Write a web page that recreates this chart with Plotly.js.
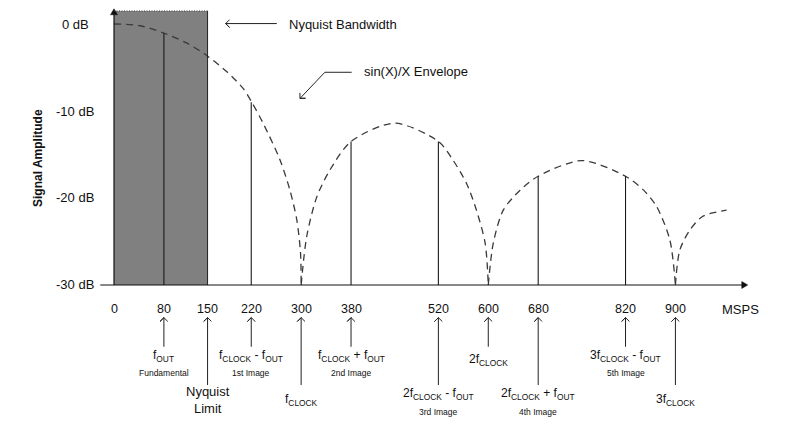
<!DOCTYPE html>
<html><head><meta charset="utf-8">
<script src="https://cdn.plot.ly/plotly-3.0.1.min.js"></script>
<style>html,body{margin:0;padding:0;background:#fff}#chart{width:791px;height:426px}</style>
</head><body><div id="chart"></div>
<script>
// ---------- data ----------
const xTickVals = [0, 80, 150, 220, 300, 380, 520, 600, 680, 820, 900];
const xUnit = 'MSPS';
const yTickVals = [0, -10, -20, -30];
const yTickText = ['0 dB', '-10 dB', '-20 dB', '-30 dB'];
const yTitle = 'Signal Amplitude';

const nyquistF = 150;        // Nyquist limit (MSPS)
const nyquistTopDb = 1.5;    // top of shaded band

// spectral lines (fOUT and images)
const toneF  = [80, 220, 380, 520, 680, 820];
const toneDb = [-1.05, -9.0, -13.5, -13.5, -17.5, -17.5];

// sin(x)/x envelope, read lobe by lobe
const lobe1F  = [0, 42, 80, 117, 150, 181, 207, 221, 239, 266, 282, 293, 299, 300];
const lobe1Db = [0, -0.2, -1.05, -2.2, -3.7, -5.5, -7.4, -9.0, -11.4, -15.6, -19.1, -22.5, -26.3, -30];
const lobe2F  = [300, 309, 325, 346, 380, 450, 520, 543, 565, 581, 595, 600];
const lobe2Db = [-30, -24.4, -19.9, -16.8, -13.5, -11.4, -13.5, -15.6, -18.3, -21.4, -25.2, -30];
const lobe3F  = [600, 608, 624, 651, 680, 750, 820, 849, 870, 891, 900];
const lobe3Db = [-30, -25.2, -21.4, -19.1, -17.5, -15.7, -17.5, -19.1, -21.0, -24.8, -30];
const lobe4F  = [900, 907, 923, 944, 982];
const lobe4Db = [-30, -26.0, -23.7, -22.1, -21.4];

// frequency markers below the axis
const markerF = [80, 150, 220, 300, 380, 520, 600, 680, 820, 900];
const markerLabel = [
  'f<sub>OUT</sub>',
  'Nyquist<br>Limit',
  'f<sub>CLOCK</sub> - f<sub>OUT</sub>',
  'f<sub>CLOCK</sub>',
  'f<sub>CLOCK</sub> + f<sub>OUT</sub>',
  '2f<sub>CLOCK</sub> - f<sub>OUT</sub>',
  '2f<sub>CLOCK</sub>',
  '2f<sub>CLOCK</sub> + f<sub>OUT</sub>',
  '3f<sub>CLOCK</sub> - f<sub>OUT</sub>',
  '3f<sub>CLOCK</sub>'
];
const markerNote = ['Fundamental', '', '1st Image', '', '2nd Image', '3rd Image', '', '4th Image', '5th Image', ''];

const bandwidthLabel = 'Nyquist Bandwidth';
const envelopeLabel = 'sin(X)/X Envelope';

// ---------- chart ----------
const FONT = 'Arial, "Liberation Sans", Helvetica, sans-serif';
const INK = '#111';
const floorDb = Math.min(...yTickVals);

// plot geometry: pixels per unit on each axis (plot area = whole figure)
const W = 791, H = 426;
const xRange = [-182.75, 1085.28];
const yRange = [-46.21, 2.759];
const PXX = W / (xRange[1] - xRange[0]);
const PXY = H / (yRange[1] - yRange[0]);

const envStyle = {color: '#3a3a3a', width: 1.3, dash: '7px,5px', shape: 'spline', smoothing: 0.8};
const lobes = [[lobe1F, lobe1Db], [lobe2F, lobe2Db], [lobe3F, lobe3Db], [lobe4F, lobe4Db]];
const traces = lobes.map(([f, d]) => ({
  x: f, y: d, type: 'scatter', mode: 'lines', line: envStyle, hoverinfo: 'skip'
}));

const tx = [], ty = [];
toneF.forEach((f, i) => { tx.push(f, f, null); ty.push(floorDb, toneDb[i], null); });
traces.push({x: tx, y: ty, type: 'scatter', mode: 'lines', line: {color: '#1a1a1a', width: 1.1}, hoverinfo: 'skip'});

// ---- pointer arrows (shaft + open chevron head), built in data units ----
const arX = [], arY = [];
function pointer(pts, arm) {
  pts.forEach(p => { arX.push(p[0]); arY.push(p[1]); });
  arX.push(null); arY.push(null);
  const tip = pts[pts.length - 1], prev = pts[pts.length - 2];
  let dx = (tip[0] - prev[0]) * PXX, dy = -(tip[1] - prev[1]) * PXY;
  const len = Math.hypot(dx, dy); dx /= len; dy /= len;
  const L = arm || 5.5, c = Math.SQRT1_2;
  [[1, -1], [1, 1]].forEach(([a, s]) => {
    // rotate reversed direction by +/-45 deg
    const rx = -dx * c - s * (-dy) * c;
    const ry = -dy * c + s * (-dx) * c;
    arX.push(tip[0] + rx * L / PXX); arY.push(tip[1] - ry * L / PXY);
    arX.push(tip[0]); arY.push(tip[1]);
  });
  arX.push(null); arY.push(null);
}

const tipDb = -33.75;
markerF.forEach((f, i) => {
  const tail = (i % 2 === 1) ? -41.5 : -37.1;
  pointer([[f, tail], [f, tipDb]]);
});
pointer([[261, 0.05], [179, 0.05]]);
pointer([[381, -5.55], [338, -5.55], [298.2, -8.55]]);
traces.push({x: arX, y: arY, type: 'scatter', mode: 'lines', line: {color: '#222', width: 1}, hoverinfo: 'skip'});

// ---- axis arrow heads (filled triangles) ----
const yTip = nyquistTopDb + 0.25, xTip = 1016;
const hl = 6, hw = 3.5;
traces.push({
  x: [0 - hw / PXX, 0 + hw / PXX, 0, 0 - hw / PXX],
  y: [yTip - hl / PXY, yTip - hl / PXY, yTip, yTip - hl / PXY],
  type: 'scatter', mode: 'lines', fill: 'toself', fillcolor: '#111', line: {color: '#111', width: 0.5}, hoverinfo: 'skip'
});
traces.push({
  x: [xTip - hl / PXX, xTip - hl / PXX, xTip, xTip - hl / PXX],
  y: [floorDb - hw / PXY, floorDb + hw / PXY, floorDb, floorDb - hw / PXY],
  type: 'scatter', mode: 'lines', fill: 'toself', fillcolor: '#111', line: {color: '#111', width: 0.5}, hoverinfo: 'skip'
});

const shapes = [
  {type: 'rect', xref: 'x', yref: 'y', x0: 0, x1: nyquistF, y0: floorDb, y1: nyquistTopDb,
   fillcolor: '#808080', line: {width: 0}, layer: 'below'},
  {type: 'line', xref: 'x', yref: 'y', x0: nyquistF, x1: nyquistF, y0: floorDb, y1: nyquistTopDb,
   line: {color: '#222', width: 1}},
  {type: 'line', xref: 'x', yref: 'y', x0: 0, x1: nyquistF, y0: nyquistTopDb, y1: nyquistTopDb,
   line: {color: '#3c3c3c', width: 1, dash: '1px,1.5px'}},
  // axes
  {type: 'line', xref: 'x', yref: 'y', x0: 0, x1: 0, y0: floorDb, y1: yTip - 2 / PXY,
   line: {color: '#111', width: 1.2}},
  {type: 'line', xref: 'x', yref: 'y', x0: -22, x1: xTip - 2 / PXX, y0: floorDb, y1: floorDb,
   line: {color: '#111', width: 1.2}}
];

const ann = [];
const txt = (x, y, text, size, extra) => Object.assign({
  xref: 'x', yref: 'y', x, y, text, showarrow: false,
  font: {family: FONT, size, color: INK}, xanchor: 'center', yanchor: 'middle'
}, extra || {});

// tick labels
xTickVals.forEach(v => ann.push(txt(v, -32.8, String(v), 12.5)));
ann.push(txt(1005, -32.8, xUnit, 13));
yTickVals.forEach((v, i) => ann.push(txt(-62.5, v, yTickText[i], 13)));
ann.push(txt(-121.8, -15.4, '<b>' + yTitle + '</b>', 12, {textangle: -90}));

// marker labels
markerF.forEach((f, i) => {
  const long = i % 2 === 1;
  const hasNote = markerNote[i] !== '';
  let ly;
  if (long) ly = hasNote ? -42.5 : -43.2;
  else ly = hasNote ? -38.2 : -38.6;
  ann.push(txt(f, ly, markerLabel[i], i === 1 ? 13 : 12));
  if (hasNote) ann.push(txt(f, long ? -44.6 : -40.1, markerNote[i], 8.5));
});

// callout texts
ann.push(txt(277, -0.1, bandwidthLabel, 13, {xanchor: 'left'}));
ann.push(txt(397, -5.48, envelopeLabel, 13, {xanchor: 'left'}));

const layout = {
  width: W, height: H,
  margin: {l: 0, r: 0, t: 0, b: 0, pad: 0},
  paper_bgcolor: '#fff', plot_bgcolor: '#fff',
  showlegend: false,
  xaxis: {range: xRange, visible: false, fixedrange: true},
  yaxis: {range: yRange, visible: false, fixedrange: true},
  shapes, annotations: ann,
  font: {family: FONT, color: INK}
};

Plotly.newPlot('chart', traces, layout, {staticPlot: true, displayModeBar: false});
</script>
</body></html>
